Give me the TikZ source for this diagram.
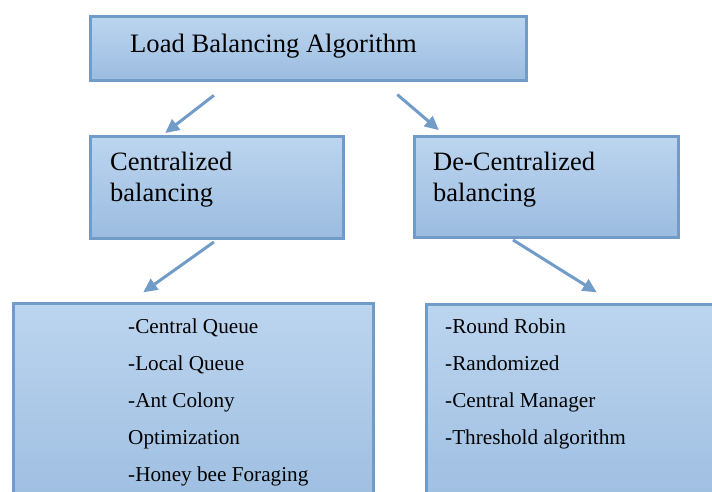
\documentclass[tikz,border=0pt]{standalone}
\usepackage{fontspec}
\setmainfont{Liberation Serif}
\usepackage{tikz}
\usetikzlibrary{arrows.meta}

\definecolor{boxtop}{HTML}{BCD5EF}
\definecolor{boxbot}{HTML}{9BBCE0}
\definecolor{boxedge}{HTML}{729CC8}

\tikzset{
  box/.style={rectangle, draw=boxedge, line width=3pt,
              top color=boxtop, bottom color=boxbot,
              inner sep=0pt, anchor=north west},
  boxtext/.style={inner sep=0pt, align=left},
  link/.style={draw=boxedge, line width=3pt,
               -{Triangle[length=14pt,width=13pt]}}
}

\begin{document}
\begin{tikzpicture}[x=1pt, y=-1pt]
\useasboundingbox (0,0) rectangle (712,492);
\clip (0,0) rectangle (712,492);

\node[box, 
      minimum width=436pt, 
      minimum height=64pt] (algo) at (88.5,15.5) {};

\node[box, 
      minimum width=253pt, 
      minimum height=101pt] (cent) at (88.5,135.5) {};

\node[box, 
      minimum width=264pt, 
      minimum height=100pt] (decent) at (412.5,135.5) {};

\node[box, 
      minimum width=359.5pt, 
      minimum height=220pt] (centlist) at (12,301.5) {};

\node[box, 
      minimum width=310pt, 
      minimum height=220pt] (decentlist) at (424.5,302.5) {};

\node[boxtext, anchor=base west, 
      font=\fontsize{26.6}{31}\selectfont] (algotext) at (130,53) {Load Balancing Algorithm};

\node[boxtext, anchor=north west, 
      font=\fontsize{26.5}{30.7}\selectfont] (centtext) at (110,152) {Centralized\\balancing};

\node[boxtext, anchor=north west, 
      font=\fontsize{26.5}{30.7}\selectfont] (decenttext) at (433,152) {De-Centralized\\balancing};

\node[boxtext, anchor=north west, 
      font=\fontsize{21.2}{37}\selectfont] (centitems) at (128,318.5) {-Central Queue\\-Local Queue\\-Ant Colony\\Optimization\\-Honey bee Foraging};

\node[boxtext, anchor=north west, 
      font=\fontsize{21.2}{37}\selectfont] (decentitems) at (445,318.7) {-Round Robin\\-Randomized\\-Central Manager\\-Threshold algorithm};

\draw[link, shorten <=21pt, shorten >=4pt] ([xshift=142pt]algo.south west) -- ([xshift=73.5pt]cent.north west);
\draw[link, shorten <=18.6pt, shorten >=8.2pt] ([xshift=294.7pt]algo.south west) -- ([xshift=32.6pt]decent.north west);
\draw[link, shorten <=4.2pt, shorten >=15.9pt] ([xshift=128.9pt]cent.south west) -- ([xshift=118.3pt]centlist.north west);
\draw[link, shorten <=2.7pt, shorten >=19.2pt] ([xshift=98.2pt]decent.south west) -- ([xshift=188.5pt]decentlist.north west);
\end{tikzpicture}
\end{document}
